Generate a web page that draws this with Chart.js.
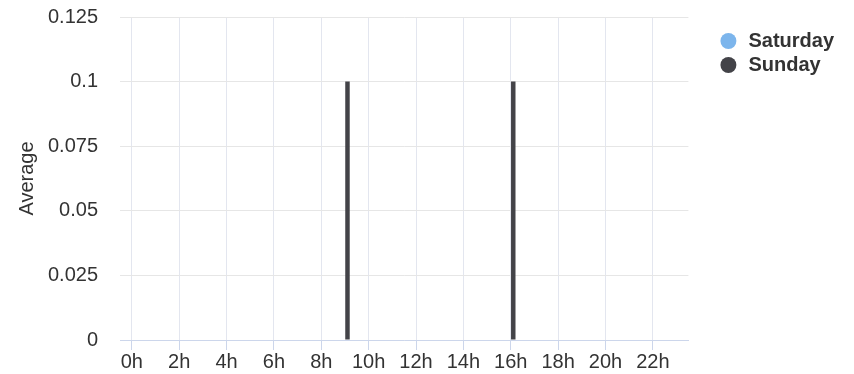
<!DOCTYPE html>
<html>
<head>
<meta charset="utf-8">
<script src="https://cdn.jsdelivr.net/npm/chart.js@4/dist/chart.umd.min.js"></script>
<style>
  html, body { margin: 0; padding: 0; background: #fff; }
  #wrap { width: 854px; height: 374px; }
</style>
</head>
<body>
<div id="wrap"><canvas id="chart"></canvas></div>
<script>
// hours of the day (category axis)
const hours = ['0h', '1h', '2h', '3h', '4h', '5h', '6h', '7h', '8h', '9h', '10h', '11h',
  '12h', '13h', '14h', '15h', '16h', '17h', '18h', '19h', '20h', '21h', '22h', '23h'];

// average per hour
const saturday = [0, 0, 0, 0, 0, 0, 0, 0, 0, 0, 0, 0, 0, 0, 0, 0, 0, 0, 0, 0, 0, 0, 0, 0];
const sunday = [0, 0, 0, 0, 0, 0, 0, 0, 0, 0.1, 0, 0, 0, 0, 0, 0, 0.1, 0, 0, 0, 0, 0, 0, 0];

// y axis
const yMax = 0.125;
const yStep = 0.025;

const font = "Arial, 'Liberation Sans', sans-serif";

new Chart(document.getElementById('chart').getContext('2d'), {
    type: 'bar',
    data: {
        labels: hours,
        datasets: [
            {
                label: 'Saturday',
                data: saturday,
                backgroundColor: '#7cb5ec',
                borderWidth: 0
            },
            {
                label: 'Sunday',
                data: sunday,
                backgroundColor: '#434348',
                borderWidth: 0
            }
        ]
    },
    options: {
        responsive: true,
        maintainAspectRatio: false,
        animation: false,
        categoryPercentage: 0.42,
        barPercentage: 0.9,
        layout: {
            padding: { top: 17, right: 10, bottom: 0, left: 0 }
        },
        scales: {
            x: {
                offset: true,
                grid: {
                    offset: false,
                    color: '#e3e6ef',
                    tickColor: '#ccd6eb',
                    tickLength: 10
                },
                border: { color: '#ccd6eb', width: 1 },
                ticks: {
                    autoSkip: false,
                    maxRotation: 0,
                    padding: 0,
                    color: '#333333',
                    font: { family: font, size: 20 },
                    callback: (v, i) => (i % 2 === 0 ? hours[i] : null)
                },
                afterFit: s => { s.height = 34; }
            },
            y: {
                min: 0,
                max: yMax,
                grid: { color: '#e6e6e6', tickColor: 'rgba(0,0,0,0)', tickLength: 22 },
                border: { display: false },
                ticks: {
                    stepSize: yStep,
                    padding: 0,
                    color: '#333333',
                    font: { family: font, size: 20 },
                    callback: v => String(Number(v.toFixed(3)))
                },
                title: {
                    display: true,
                    text: 'Average',
                    color: '#333333',
                    font: { family: font, size: 20 },
                    padding: { top: 15, bottom: 0 }
                },
                afterFit: s => { s.width = 120; }
            },
            // spacer between plot and legend
            gap: {
                type: 'linear',
                position: 'right',
                display: true,
                grid: { display: false },
                border: { display: false },
                ticks: { display: false },
                afterFit: s => { s.width = 26; }
            }
        },
        plugins: {
            legend: {
                position: 'right',
                align: 'start',
                fullSize: false,
                title: {
                    display: true,
                    text: '',
                    font: { size: 10, lineHeight: 1 },
                    padding: 0
                },
                labels: {
                    usePointStyle: true,
                    pointStyle: 'circle',
                    boxWidth: 20,
                    boxHeight: 11.3,
                    padding: 4,
                    color: '#333333',
                    font: { family: font, size: 20, weight: 'bold' }
                }
            },
            tooltip: { enabled: false }
        }
    }
});
</script>
</body>
</html>
